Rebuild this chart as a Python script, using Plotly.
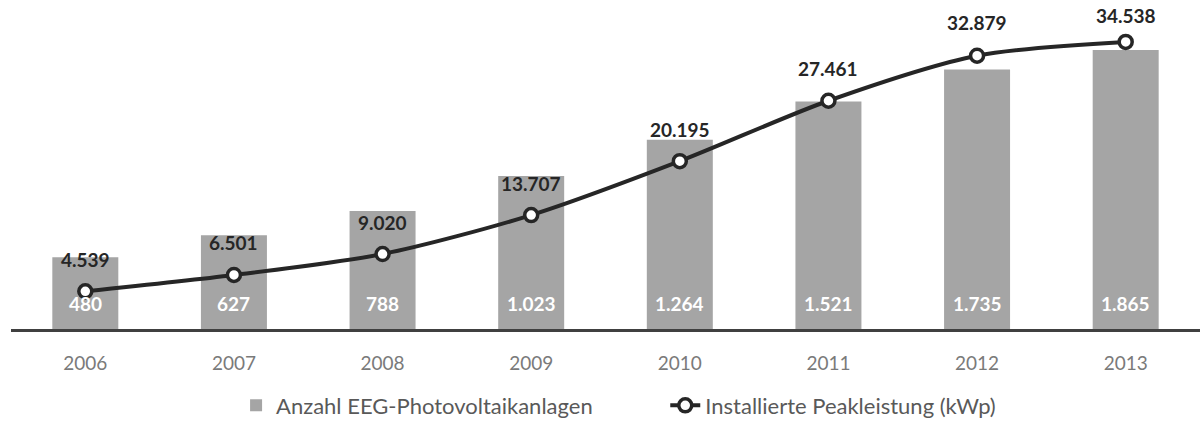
import plotly.graph_objects as go

years = [2006, 2007, 2008, 2009, 2010, 2011, 2012, 2013]
anlagen = [480, 627, 788, 1023, 1264, 1521, 1735, 1865]
peakleistung = [4539, 6501, 9020, 13707, 20195, 27461, 32879, 34538]

name_bar = "Anzahl EEG-Photovoltaikanlagen"
name_line = "Installierte Peakleistung (kWp)"

def de(v):
    return f"{v:,}".replace(",", ".")

fig = go.Figure()
fig.add_trace(go.Bar(
    x=years, y=anlagen, name=name_bar + "&nbsp;" * 12,
    width=0.444,
    marker=dict(color="#A5A5A5", line=dict(width=0)),
    hoverinfo="skip",
))
fig.add_trace(go.Scatter(
    x=years, y=peakleistung, name=name_line, mode="lines+markers",
    line=dict(color="#262626", width=4, shape="spline", smoothing=0.8),
    marker=dict(size=13, color="white", line=dict(color="#262626", width=3.5)),
    yaxis="y2", hoverinfo="skip",
))

annotations = []
top_shift = [32, 32, 32, 32, 32, 32, 33, 26]
for i, (yr, v) in enumerate(zip(years, peakleistung)):
    annotations.append(dict(
        x=yr, y=v, xref="x", yref="y2", text="<b>" + de(v) + "</b>", showarrow=False,
        yshift=top_shift[i], font=dict(family="Lato", size=19, color="#262626"),
    ))
for yr, v in zip(years, anlagen):
    annotations.append(dict(
        x=yr, y=0, xref="x", yref="y", text="<b>" + de(v) + "</b>", showarrow=False,
        yshift=26, font=dict(family="Lato", size=19, color="white"),
    ))

fig.update_layout(
    width=1200, height=427,
    margin=dict(l=11, r=0, t=10, b=90),
    paper_bgcolor="white", plot_bgcolor="white",
    font=dict(family="Lato", color="#595959"),
    hovermode=False,
    xaxis=dict(
        type="linear", range=[years[0] - 0.5, years[-1] + 0.5],
        tickmode="array", tickvals=years, ticktext=[str(y) for y in years],
        showline=True, linecolor="#404040", linewidth=2.5,
        ticks="outside", ticklen=16, tickcolor="rgba(0,0,0,0)",
        tickfont=dict(family="Lato", size=19, color="#7a7a7a"),
        showgrid=False, zeroline=False,
    ),
    yaxis=dict(range=[0, 2132], visible=False, showgrid=False, zeroline=False),
    yaxis2=dict(range=[0, 38380], visible=False, overlaying="y", showgrid=False, zeroline=False),
    showlegend=True,
    legend=dict(
        orientation="h", x=0.511, xanchor="center", y=-0.24, yanchor="middle",
        font=dict(family="Lato", size=22, color="#595959"),
        bgcolor="rgba(0,0,0,0)", traceorder="normal",
    ),
    annotations=annotations,
)

fig.write_html(
    "out.html",
    config={"displayModeBar": False, "staticPlot": True},
    post_script="document.body.style.margin='0px';",
)
